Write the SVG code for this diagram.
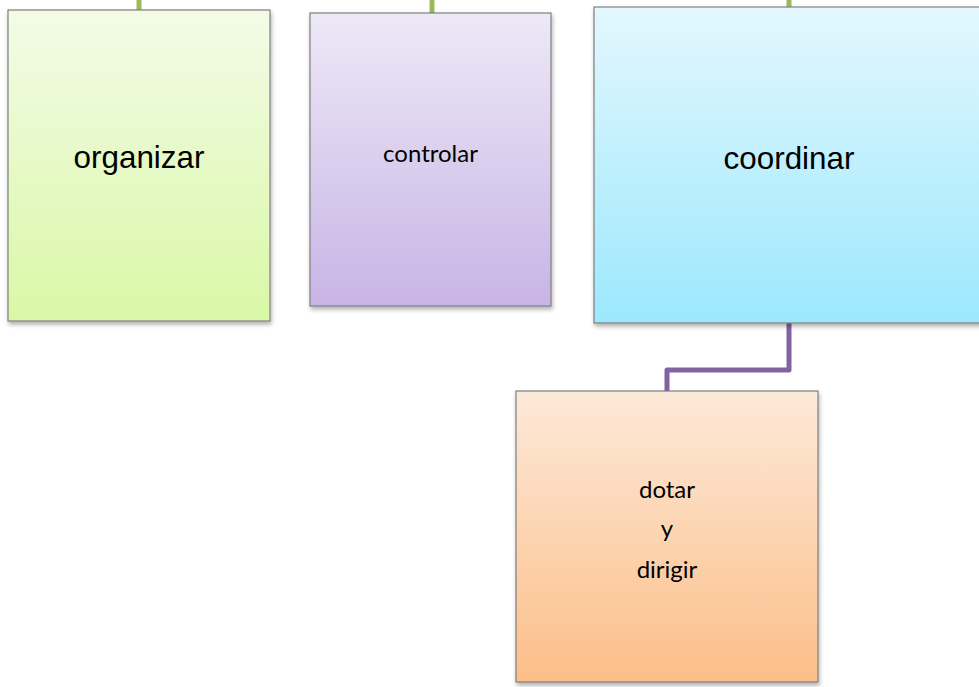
<svg xmlns="http://www.w3.org/2000/svg" width="979" height="687" viewBox="0 0 979 687">
<style>
.box{stroke:#7f7f7f;stroke-width:1.2;filter:url(#sh)}
.arial{font-family:"Liberation Sans",Arial,sans-serif;font-size:31.4px;fill:#000;text-anchor:middle}
.cal{font-family:Lato,"Open Sans",sans-serif;font-size:24px;fill:#000;text-anchor:middle}
.g{stroke:#9bbb59;stroke-width:5;fill:none}
.p{stroke:#8064a2;stroke-width:5;fill:none;stroke-linejoin:round}
</style>
<defs>
<filter id="sh" x="-5%" y="-5%" width="112%" height="112%">
<feDropShadow dx="1" dy="3" stdDeviation="2" flood-color="#000" flood-opacity="0.3"/>
</filter>
<linearGradient id="gg" x1="0" y1="0" x2="0" y2="1"><stop offset="0" stop-color="#f3fbe7"/><stop offset="1" stop-color="#d9f8a6"/></linearGradient>
<linearGradient id="gp" x1="0" y1="0" x2="0" y2="1"><stop offset="0" stop-color="#ede9f7"/><stop offset="1" stop-color="#c8b4e5"/></linearGradient>
<linearGradient id="gb" x1="0" y1="0" x2="0" y2="1"><stop offset="0" stop-color="#e3f7fe"/><stop offset="1" stop-color="#9ce8fd"/></linearGradient>
<linearGradient id="go" x1="0" y1="0" x2="0" y2="1"><stop offset="0" stop-color="#fde9d9"/><stop offset="1" stop-color="#fcbe88"/></linearGradient>
</defs>
<rect width="979" height="687" fill="#fff"/>
<g id="connectors">
<line class="g" x1="139" y1="0" x2="139" y2="10"/>
<line class="g" x1="432" y1="0" x2="432" y2="13"/>
<line class="g" x1="789" y1="0" x2="789" y2="7"/>
<polyline class="p" points="789,323 789,370 667,370 667,391"/>
</g>
<g id="organizar">
<rect class="box" x="8" y="10" width="262" height="311" fill="url(#gg)"/>
<text class="arial" x="139" y="168">organizar</text>
</g>
<g id="controlar">
<rect class="box" x="310" y="13" width="241" height="293" fill="url(#gp)"/>
<text class="cal" x="430.5" y="162">controlar</text>
</g>
<g id="coordinar">
<rect class="box" x="594" y="7" width="400" height="316" fill="url(#gb)"/>
<text class="arial" x="789" y="168.5">coordinar</text>
</g>
<g id="dotar">
<rect class="box" x="516" y="391" width="302" height="291" fill="url(#go)"/>
<text class="cal" x="667" y="497.5">dotar</text>
<text class="cal" x="667" y="537">y</text>
<text class="cal" x="667" y="577.5">dirigir</text>
</g>
</svg>
